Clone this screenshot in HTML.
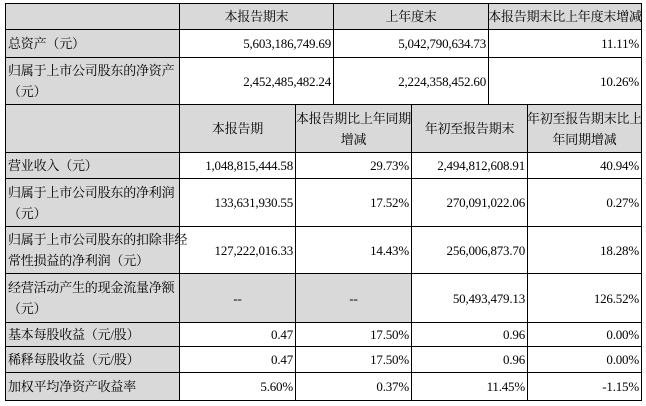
<!DOCTYPE html>
<html><head><meta charset="utf-8"><style>
body{margin:0;width:646px;height:406px;background:#fff;position:relative;overflow:hidden;font-family:"Liberation Serif","Noto Serif CJK SC",serif;font-size:13px;color:#000}
.c{position:absolute;box-sizing:border-box;border:1px solid #000;display:flex;align-items:center;padding:0 2px;line-height:21px;white-space:nowrap;letter-spacing:-0.2px}
.g{background:#d9d9d9}
.l{justify-content:flex-start}
.r{justify-content:flex-end}
.m{justify-content:center;text-align:center}
</style></head><body>
<div class="c g" style="left:5px;top:3px;width:175px;height:27px"></div>
<div class="c g m" style="left:179px;top:3px;width:155px;height:27px">本报告期末</div>
<div class="c g m" style="left:333px;top:3px;width:156px;height:27px">上年度末</div>
<div class="c g m" style="left:488px;top:3px;width:154px;height:27px">本报告期末比上年度末增减</div>

<div class="c g l" style="left:5px;top:29px;width:175px;height:29px">总资产（元）</div>
<div class="c r" style="left:179px;top:29px;width:155px;height:29px">5,603,186,749.69</div>
<div class="c r" style="left:333px;top:29px;width:156px;height:29px">5,042,790,634.73</div>
<div class="c r" style="left:488px;top:29px;width:154px;height:29px">11.11%</div>

<div class="c g l" style="left:5px;top:57px;width:175px;height:48px">归属于上市公司股东的净资产<br>（元）</div>
<div class="c r" style="left:179px;top:57px;width:155px;height:48px">2,452,485,482.24</div>
<div class="c r" style="left:333px;top:57px;width:156px;height:48px">2,224,358,452.60</div>
<div class="c r" style="left:488px;top:57px;width:154px;height:48px">10.26%</div>

<div class="c g" style="left:5px;top:104px;width:175px;height:49px"></div>
<div class="c g m" style="left:179px;top:104px;width:117px;height:49px">本报告期</div>
<div class="c g m" style="left:295px;top:104px;width:117px;height:49px">本报告期比上年同期<br>增减</div>
<div class="c g m" style="left:411px;top:104px;width:117px;height:49px">年初至报告期末</div>
<div class="c g m" style="left:527px;top:104px;width:115px;height:49px">年初至报告期末比上<br>年同期增减</div>

<div class="c g l" style="left:5px;top:152px;width:175px;height:27px">营业收入（元）</div>
<div class="c r" style="left:179px;top:152px;width:117px;height:27px">1,048,815,444.58</div>
<div class="c r" style="left:295px;top:152px;width:117px;height:27px">29.73%</div>
<div class="c r" style="left:411px;top:152px;width:117px;height:27px">2,494,812,608.91</div>
<div class="c r" style="left:527px;top:152px;width:115px;height:27px">40.94%</div>

<div class="c g l" style="left:5px;top:178px;width:175px;height:49px">归属于上市公司股东的净利润<br>（元）</div>
<div class="c r" style="left:179px;top:178px;width:117px;height:49px">133,631,930.55</div>
<div class="c r" style="left:295px;top:178px;width:117px;height:49px">17.52%</div>
<div class="c r" style="left:411px;top:178px;width:117px;height:49px">270,091,022.06</div>
<div class="c r" style="left:527px;top:178px;width:115px;height:49px">0.27%</div>

<div class="c g l" style="left:5px;top:226px;width:175px;height:48px">归属于上市公司股东的扣除非经<br>常性损益的净利润（元）</div>
<div class="c r" style="left:179px;top:226px;width:117px;height:48px">127,222,016.33</div>
<div class="c r" style="left:295px;top:226px;width:117px;height:48px">14.43%</div>
<div class="c r" style="left:411px;top:226px;width:117px;height:48px">256,006,873.70</div>
<div class="c r" style="left:527px;top:226px;width:115px;height:48px">18.28%</div>

<div class="c g l" style="left:5px;top:273px;width:175px;height:50px">经营活动产生的现金流量净额<br>（元）</div>
<div class="c g m" style="left:179px;top:273px;width:117px;height:50px">--</div>
<div class="c g m" style="left:295px;top:273px;width:117px;height:50px">--</div>
<div class="c r" style="left:411px;top:273px;width:117px;height:50px">50,493,479.13</div>
<div class="c r" style="left:527px;top:273px;width:115px;height:50px">126.52%</div>

<div class="c g l" style="left:5px;top:322px;width:175px;height:25px">基本每股收益（元/股）</div>
<div class="c r" style="left:179px;top:322px;width:117px;height:25px">0.47</div>
<div class="c r" style="left:295px;top:322px;width:117px;height:25px">17.50%</div>
<div class="c r" style="left:411px;top:322px;width:117px;height:25px">0.96</div>
<div class="c r" style="left:527px;top:322px;width:115px;height:25px">0.00%</div>

<div class="c g l" style="left:5px;top:346px;width:175px;height:27px">稀释每股收益（元/股）</div>
<div class="c r" style="left:179px;top:346px;width:117px;height:27px">0.47</div>
<div class="c r" style="left:295px;top:346px;width:117px;height:27px">17.50%</div>
<div class="c r" style="left:411px;top:346px;width:117px;height:27px">0.96</div>
<div class="c r" style="left:527px;top:346px;width:115px;height:27px">0.00%</div>

<div class="c g l" style="left:5px;top:372px;width:175px;height:29px">加权平均净资产收益率</div>
<div class="c r" style="left:179px;top:372px;width:117px;height:29px">5.60%</div>
<div class="c r" style="left:295px;top:372px;width:117px;height:29px">0.37%</div>
<div class="c r" style="left:411px;top:372px;width:117px;height:29px">11.45%</div>
<div class="c r" style="left:527px;top:372px;width:115px;height:29px">-1.15%</div>
</body></html>
